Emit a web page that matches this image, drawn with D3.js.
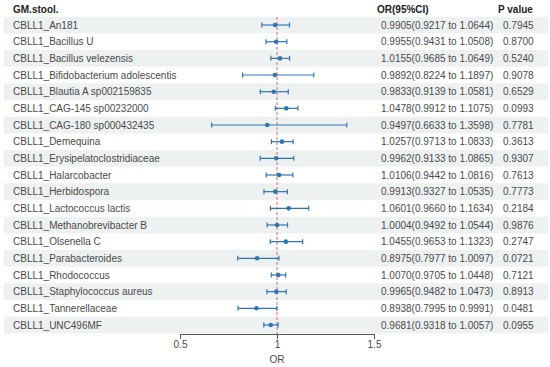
<!DOCTYPE html>
<html><head><meta charset="utf-8">
<script src="https://cdn.jsdelivr.net/npm/d3@7"></script>
<style>body{margin:0;background:#fff}svg{display:block;font-family:"Liberation Sans",Arial,sans-serif}</style>
</head><body><div id="c"></div>
<script>
const labels = ["CBLL1_An181","CBLL1_Bacillus U","CBLL1_Bacillus velezensis","CBLL1_Bifidobacterium adolescentis","CBLL1_Blautia A sp002159835","CBLL1_CAG-145 sp00232000","CBLL1_CAG-180 sp000432435","CBLL1_Demequina","CBLL1_Erysipelatoclostridiaceae","CBLL1_Halarcobacter","CBLL1_Herbidospora","CBLL1_Lactococcus lactis","CBLL1_Methanobrevibacter B","CBLL1_Olsenella C","CBLL1_Parabacteroides","CBLL1_Rhodococcus","CBLL1_Staphylococcus aureus","CBLL1_Tannerellaceae","CBLL1_UNC496MF"];
const orVals = [0.9905,0.9955,1.0155,0.9892,0.9833,1.0478,0.9497,1.0257,0.9962,1.0106,0.9913,1.0601,1.0004,1.0455,0.8975,1.0070,0.9965,0.8938,0.9681];
const lowVals = [0.9217,0.9431,0.9685,0.8224,0.9139,0.9912,0.6633,0.9713,0.9133,0.9442,0.9327,0.9660,0.9492,0.9653,0.7977,0.9705,0.9482,0.7995,0.9318];
const highVals = [1.0644,1.0508,1.0649,1.1897,1.0581,1.1075,1.3598,1.0833,1.0865,1.0816,1.0535,1.1634,1.0544,1.1323,1.0097,1.0448,1.0473,0.9991,1.0057];
const pVals = ["0.7945","0.8700","0.5240","0.9078","0.6529","0.0993","0.7781","0.3613","0.9307","0.7613","0.7773","0.2184","0.9876","0.2747","0.0721","0.7121","0.8913","0.0481","0.0955"];
const xTicks = [0.5,1,1.5];

const W=550,H=367;
const svg=d3.select("#c").append("svg").attr("width",W).attr("height",H);
const x=d3.scaleLinear().domain([0.5,1.5]).range([180,374]);
const y=d3.scaleBand().domain(d3.range(labels.length)).range([16.7,333.3]);
const blue="#2e75b6", txt="#4a4a4a";

// shading
svg.selectAll("rect.bg").data(d3.range(labels.length).filter(i=>i%2===0)).enter()
  .append("rect").attr("x",4).attr("width",544).attr("y",i=>y(i)).attr("height",y.bandwidth()).attr("fill","#eef1f1");

// headers
const hdr=[["GM.stool.",13],["OR(95%CI)",377],["P value",498]];
svg.selectAll("text.h").data(hdr).enter().append("text").attr("x",d=>d[1]).attr("y",12.5)
  .attr("font-size",10).attr("font-weight","bold").attr("fill","#222").text(d=>d[0]);

// reference line
svg.append("line").attr("x1",x(1)).attr("x2",x(1)).attr("y1",17).attr("y2",334)
  .attr("stroke","#e06666").attr("stroke-width",1).attr("stroke-dasharray","3,2");

// labels & texts
const rows=svg.selectAll("g.r").data(labels).enter().append("g")
  .attr("transform",(d,i)=>`translate(0,${y(i)+y.bandwidth()/2})`);
rows.append("text").attr("x",13).attr("y",3.6).attr("font-size",10).attr("fill",txt).text(d=>d);
rows.append("text").attr("x",381).attr("y",3.6).attr("font-size",10).attr("fill",txt)
  .text((d,i)=>`${orVals[i].toFixed(4)}(${lowVals[i].toFixed(4)} to ${highVals[i].toFixed(4)})`);
rows.append("text").attr("x",503).attr("y",3.6).attr("font-size",10).attr("fill",txt).text((d,i)=>pVals[i]);

// CIs
rows.append("line").attr("x1",(d,i)=>x(lowVals[i])).attr("x2",(d,i)=>x(highVals[i])).attr("y1",0).attr("y2",0)
  .attr("stroke",blue).attr("stroke-width",1.2);
rows.append("line").attr("x1",(d,i)=>x(lowVals[i])).attr("x2",(d,i)=>x(lowVals[i])).attr("y1",-2.5).attr("y2",2.5)
  .attr("stroke",blue).attr("stroke-width",1.2);
rows.append("line").attr("x1",(d,i)=>x(highVals[i])).attr("x2",(d,i)=>x(highVals[i])).attr("y1",-2.5).attr("y2",2.5)
  .attr("stroke",blue).attr("stroke-width",1.2);
rows.append("circle").attr("cx",(d,i)=>x(orVals[i])).attr("cy",0).attr("r",2.3).attr("fill",blue);

// axis
const ax=svg.append("g").attr("transform","translate(0,334)")
  .call(d3.axisBottom(x).tickValues(xTicks).tickFormat(d3.format("")).tickSizeOuter(0).tickSize(5));
ax.select(".domain").attr("stroke","#555");
ax.selectAll(".tick line").attr("stroke","#555");
ax.selectAll(".tick text").attr("font-size",10).attr("fill",txt).attr("font-family","Liberation Sans, Arial, sans-serif").attr("dy","0.55em");
svg.append("text").attr("x",x(1)).attr("y",363).attr("text-anchor","middle").attr("font-size",10).attr("fill",txt).text("OR");
</script></body></html>
